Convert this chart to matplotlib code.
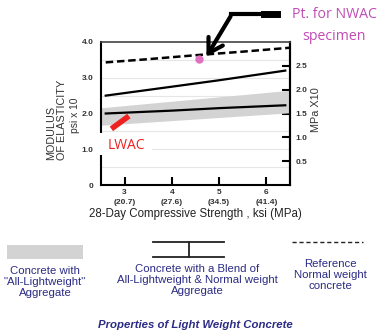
import matplotlib
matplotlib.use("Agg")
import matplotlib.pyplot as plt
from matplotlib.lines import Line2D
from matplotlib.patches import Rectangle, FancyArrowPatch

plt.rcParams['font.family'] = ['Liberation Sans', 'DejaVu Sans']

# ---- data ----
ref_x = [2.6, 3.5, 4.5, 5.5, 6.5]
ref_y = [3.43, 3.52, 3.63, 3.73, 3.84]
blend_hi_x = [2.6, 4.0, 5.0, 6.4]
blend_hi_y = [2.50, 2.75, 2.93, 3.20]
blend_lo_x = [2.6, 4.0, 5.0, 6.4]
blend_lo_y = [2.00, 2.08, 2.15, 2.23]
band_x = [2.5, 6.5]
band_lo = [1.67, 2.02]
band_hi = [2.16, 2.65]
nwac_pt = (4.57, 3.53)
lwac_x = [2.72, 3.09]
lwac_y = [1.57, 1.93]
x_ticks = [3, 4, 5, 6]
x_ticklabels = ["3\n(20.7)", "4\n(27.6)", "5\n(34.5)", "6\n(41.4)"]
y_ticks = [0, 1.0, 2.0, 3.0, 4.0]
y_ticklabels = ["0", "1.0", "2.0", "3.0", "4.0"]
r_ticks = [0.5, 1.0, 1.5, 2.0, 2.5]

W, H = 377, 333
fig = plt.figure(figsize=(W / 100, H / 100), dpi=100)
def fx(px): return px / W
def fy(py): return 1 - py / H

ax = fig.add_axes([fx(101), fy(185), fx(290) - fx(101), fy(42) - fy(185)])
ax.set_xlim(2.5, 6.5)
ax.set_ylim(0, 4.0)

for g in [0.5, 1.0, 1.5, 2.5, 3.0, 3.5]:
    ax.axhline(g, color='#e6e6e6', lw=0.8, zorder=0)

ax.fill_between(band_x, band_lo, band_hi, color='#d3d3d3', lw=0, zorder=1)
ax.plot(blend_hi_x, blend_hi_y, color='black', lw=1.6, zorder=3)
ax.plot(blend_lo_x, blend_lo_y, color='black', lw=1.6, zorder=3)
ax.plot(ref_x, ref_y, color='black', lw=1.8, ls=(0, (3, 1.5)), zorder=3)
ax.plot([nwac_pt[0]], [nwac_pt[1]], 'o', color='#e070c0', ms=5, zorder=4)
ax.plot(lwac_x, lwac_y, color='#ee2020', lw=4, solid_capstyle='butt', zorder=4)

ax.set_xticks(x_ticks)
ax.set_xticklabels(x_ticklabels, fontsize=6, fontweight='bold', color='#333333', linespacing=1.5)
ax.tick_params(axis='x', direction='in', length=6, width=1.5, pad=3)
ax.set_yticks(y_ticks)
ax.set_yticklabels(y_ticklabels, fontsize=6, fontweight='bold', color='#333333')
ax.tick_params(axis='y', length=0, pad=5.5)
for s in ['left', 'bottom', 'right']:
    ax.spines[s].set_linewidth(1.5)
ax.spines['top'].set_linewidth(1.2)
ax.spines['top'].set_color('#444444')

sec = ax.secondary_yaxis('right', functions=(lambda y: y * 0.75, lambda y: y / 0.75))
sec.set_yticks(r_ticks)
sec.set_yticklabels([f"{v:.1f}" for v in r_ticks], fontsize=6, fontweight='bold', color='#333333')
sec.tick_params(direction='in', length=6, width=1.5, pad=4)
sec.spines['right'].set_linewidth(1.5)

ax.set_xlabel("28-Day Compressive Strength , ksi (MPa)", fontsize=8.3, color='#222222', labelpad=2)

fig.text(fx(57), fy(160), "MODULUS\nOF ELASTICITY", rotation=90, ha='center', va='bottom',
         multialignment='left', fontsize=7.8, color='#333333', linespacing=1.1)
fig.text(fx(75), fy(115), "psi x 10", rotation=90, ha='center', va='center',
         fontsize=7.4, color='#333333')
fig.text(fx(316), fy(110), "MPa X10", rotation=90, ha='center', va='center',
         fontsize=7.8, color='#333333')

# LWAC label with white box covering spine
fig.patches.append(Rectangle((fx(99), fy(155)), fx(152) - fx(99), fy(133) - fy(155),
                             transform=fig.transFigure, facecolor='white', edgecolor='none', zorder=5))
fig.text(fx(108), fy(145), "LWAC", ha='left', va='center', fontsize=10, color='#ee2020',
         family=['Open Sans', 'DejaVu Sans'], zorder=6)

# Annotation arrow
fig.add_artist(Line2D([fx(231), fx(266)], [fy(14), fy(14)], transform=fig.transFigure,
                      color='black', lw=3))
fig.add_artist(Line2D([fx(264), fx(277)], [fy(14), fy(14)], transform=fig.transFigure,
                      color='black', lw=5))
arr = FancyArrowPatch((fx(232), fy(14)), (fx(205), fy(59)), transform=fig.transFigure,
                      arrowstyle='->,head_length=5,head_width=3', lw=3, color='black',
                      mutation_scale=2)
fig.add_artist(arr)
fig.text(fx(334), fy(14), "Pt. for NWAC", ha='center', va='center', fontsize=10.2,
         color='#c04cb4', family=['Open Sans', 'DejaVu Sans'])
fig.text(fx(334), fy(36), "specimen", ha='center', va='center', fontsize=10.2,
         color='#c04cb4', family=['Open Sans', 'DejaVu Sans'])

# Legend
navy = '#2b2b85'
fig.patches.append(Rectangle((fx(7), fy(259)), fx(83) - fx(7), fy(245) - fy(259),
                             transform=fig.transFigure, facecolor='#d3d3d3', edgecolor='none'))
fig.text(fx(45), fy(282), "Concrete with\n\"All-Lightweight\"\nAggregate", ha='center', va='center',
         fontsize=8.2, color=navy, linespacing=1.1)

fig.add_artist(Line2D([fx(153), fx(224)], [fy(242), fy(242)], transform=fig.transFigure, color='#222222', lw=1.3))
fig.add_artist(Line2D([fx(153), fx(224)], [fy(257), fy(257)], transform=fig.transFigure, color='#222222', lw=1.3))
fig.add_artist(Line2D([fx(189), fx(189)], [fy(242), fy(257)], transform=fig.transFigure, color='#222222', lw=1.3))
fig.text(fx(197), fy(280), "Concrete with a Blend of\nAll-Lightweight & Normal weight\nAggregate",
         ha='center', va='center', fontsize=8.2, color=navy, linespacing=1.1)

fig.add_artist(Line2D([fx(292), fx(363)], [fy(242), fy(242)], transform=fig.transFigure,
                      color='#222222', lw=1.0, ls=(0, (3, 2))))
fig.text(fx(330), fy(275), "Reference\nNormal weight\nconcrete", ha='center', va='center',
         fontsize=8.2, color=navy, linespacing=1.1)

fig.text(fx(195), fy(325), "Properties of Light Weight Concrete", ha='center', va='center',
         fontsize=8.2, color=navy, fontweight='bold', style='italic')

fig.savefig("out.png", dpi=100)
